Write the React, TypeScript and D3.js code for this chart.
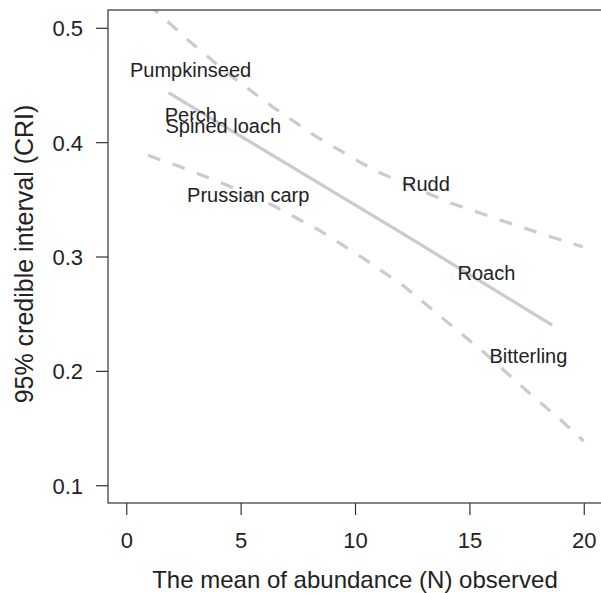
import React from "react";
import * as d3 from "d3";

// ---- data ----
const xTicks = [0, 5, 10, 15, 20];
const yTicks = [0.1, 0.2, 0.3, 0.4, 0.5];

const meanX = [1.82, 11.94, 18.6];
const meanY = [0.4437, 0.322, 0.2404];

const upperX = [0.94, 1.31, 2.84, 4.51, 6.4, 8.3, 10.19, 11.14, 14.19, 16.38, 18.48, 19.93];
const upperY = [0.521, 0.5145, 0.487, 0.459, 0.431, 0.405, 0.383, 0.373, 0.347, 0.332, 0.318, 0.309];

const lowerX = [0.93, 2.25, 4.37, 6.4, 8.37, 10.26, 12.15, 13.9, 15.65, 17.32, 19.0, 19.97];
const lowerY = [0.389, 0.3795, 0.363, 0.345, 0.324, 0.3, 0.274, 0.245, 0.216, 0.186, 0.157, 0.139];

const species = ["Pumpkinseed", "Perch", "Spined loach", "Prussian carp", "Rudd", "Roach", "Bitterling"];
const speciesX = [2.79, 2.8, 4.22, 5.31, 13.08, 15.72, 17.56];
const speciesY = [0.4635, 0.4247, 0.4148, 0.3543, 0.364, 0.2861, 0.2135];

const xTitle = "The mean of abundance (N) observed";
const yTitle = "95% credible interval (CRI)";

// ---- layout ----
const W = 601;
const H = 593;
const left = 108;
const top = 10;
const bottom = 503;
const right = 614;

const x = d3.scaleLinear().domain([-0.82, 21.3]).range([left, right]);
const y = d3.scaleLinear().domain([0.0849, 0.516]).range([bottom, top]);

const FONT = "'Liberation Sans', Arial, Helvetica, sans-serif";
const TEXT = "#222";
const LINE = "#cbcbcb";

function toPts(xs: number[], ys: number[]): [number, number][] {
  return xs.map((v, i) => [v, ys[i]] as [number, number]);
}

const lineGen = d3
  .line<[number, number]>()
  .x((d) => x(d[0]))
  .y((d) => y(d[1]));

export default function App() {
  return (
    <svg
      width={W}
      height={H}
      style={{ position: "absolute", left: 0, top: 0, background: "#fff" }}
      fontFamily={FONT}
    >
      <defs>
        <clipPath id="plotClip">
          <rect x={left} y={top} width={right - left} height={bottom - top} />
        </clipPath>
      </defs>
      <rect x={0} y={0} width={W} height={H} fill="#fff" />

      <g clipPath="url(#plotClip)">
        <path d={lineGen(toPts(upperX, upperY)) || ""} fill="none" stroke={LINE} strokeWidth={3.2} strokeDasharray="13,13" />
        <path d={lineGen(toPts(lowerX, lowerY)) || ""} fill="none" stroke={LINE} strokeWidth={3.2} strokeDasharray="13,13" />
        <path d={lineGen(toPts(meanX, meanY)) || ""} fill="none" stroke={LINE} strokeWidth={3.2} />
      </g>

      {species.map((s, i) => (
        <text
          key={s}
          x={x(speciesX[i])}
          y={y(speciesY[i])}
          dy="0.36em"
          textAnchor="middle"
          fontSize={20}
          fill={TEXT}
        >
          {s}
        </text>
      ))}

      {/* box */}
      <rect x={left} y={top} width={right - left} height={bottom - top} fill="none" stroke="#333" strokeWidth={1.2} />

      {/* x axis */}
      {xTicks.map((t) => (
        <g key={"x" + t}>
          <line x1={x(t)} x2={x(t)} y1={bottom} y2={bottom + 12} stroke="#333" strokeWidth={1.2} />
          <text x={x(t)} y={bottom + 45} textAnchor="middle" fontSize={22} fill={TEXT}>
            {t}
          </text>
        </g>
      ))}
      <text x={355} y={588} textAnchor="middle" fontSize={24} fill={TEXT}>
        {xTitle}
      </text>

      {/* y axis */}
      {yTicks.map((t) => (
        <g key={"y" + t}>
          <line x1={left - 12} x2={left} y1={y(t)} y2={y(t)} stroke="#333" strokeWidth={1.2} />
          <text x={83} y={y(t)} dy="0.36em" textAnchor="end" fontSize={22} fill={TEXT}>
            {t.toFixed(1)}
          </text>
        </g>
      ))}
      <text
        transform={`translate(33, 254) rotate(-90)`}
        textAnchor="middle"
        fontSize={25}
        fill={TEXT}
      >
        {yTitle}
      </text>
    </svg>
  );
}
